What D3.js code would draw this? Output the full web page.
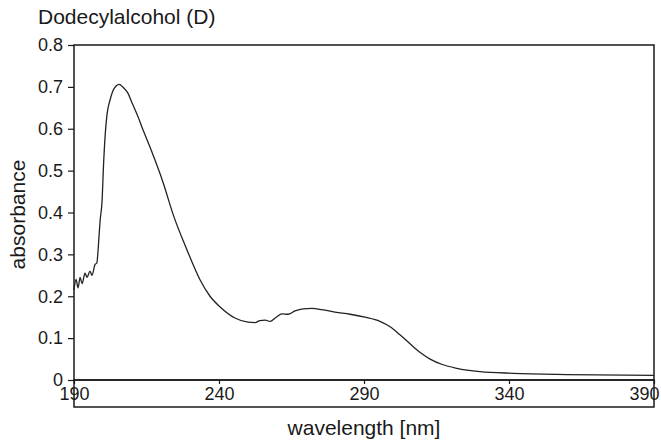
<html>
<head>
<title>Dodecylalcohol (D)</title>
<script src="https://d3js.org/d3.v7.min.js"></script>
<style>
  body { margin: 0; background: #fff; }
  text { font-family: "Liberation Sans", Arial, sans-serif; fill: #1a1a1a; }
</style>
</head>
<body>
<div id="chart"></div>
<script>
// wavelength (nm) and absorbance
var wavelength = [190.0, 190.7, 191.4, 192.1, 192.8, 193.8, 194.5, 195.5, 196.2, 197.2,
                  197.9, 198.3, 198.6, 199.0, 199.7, 200.1, 200.7, 201.4, 202.4, 203.4,
                  204.5, 205.6, 206.9, 208.6, 210.0, 211.7, 214.1, 216.6, 220.8, 224.2,
                  229.0, 233.4, 236.9, 240.3, 245.5, 250.0, 252.4, 254.1, 255.9, 257.6,
                  259.7, 261.7, 263.8, 266.2, 269.0, 272.0, 275.5, 280.0, 285.2, 290.3,
                  295.5, 299.0, 302.4, 306.9, 309.5, 312.8, 317.0, 322.0, 330.0, 341.4,
                  360.0, 390.0];
var absorbance = [0.215, 0.24, 0.22, 0.245, 0.23, 0.255, 0.245, 0.26, 0.25, 0.275,
                  0.28, 0.31, 0.34, 0.38, 0.43, 0.50, 0.58, 0.635, 0.668, 0.69,
                  0.702, 0.706, 0.699, 0.685, 0.662, 0.635, 0.592, 0.549, 0.47, 0.395,
                  0.31, 0.24, 0.2, 0.175, 0.148, 0.138, 0.137, 0.142, 0.143, 0.14,
                  0.15, 0.158, 0.157, 0.165, 0.17, 0.171, 0.168, 0.162, 0.157, 0.15,
                  0.14, 0.127, 0.108, 0.08, 0.065, 0.05, 0.037, 0.028, 0.02, 0.016,
                  0.013, 0.011];
var xTicks = [190, 240, 290, 340, 390];
var yTicks = [0, 0.1, 0.2, 0.3, 0.4, 0.5, 0.6, 0.7, 0.8];

var W = 661, H = 441;
var mLeft = 74, mRight = 654, mTop = 45, mBottom = 380, boxBottom = 407;

var svg = d3.select("#chart").append("svg")
  .attr("width", W)
  .attr("height", H);

var x = d3.scaleLinear().domain([190, 390]).range([mLeft, mRight]);
var y = d3.scaleLinear().domain([0, 0.8]).range([mBottom, mTop]);

// plot frame
svg.append("rect")
  .attr("x", mLeft).attr("y", mTop)
  .attr("width", mRight - mLeft).attr("height", mBottom - mTop)
  .attr("fill", "none").attr("stroke", "#1a1a1a").attr("stroke-width", 1.5);
// box under the plot holding the x tick labels
svg.append("rect")
  .attr("x", mLeft).attr("y", mBottom)
  .attr("width", mRight - mLeft).attr("height", boxBottom - mBottom)
  .attr("fill", "none").attr("stroke", "#1a1a1a").attr("stroke-width", 1.5);

// y axis
var yAxis = svg.append("g")
  .attr("transform", "translate(" + mLeft + ",0)")
  .call(d3.axisLeft(y).tickValues(yTicks).tickSize(6).tickPadding(5)
    .tickFormat(function (d) { return d === 0 ? "0" : d3.format(".1f")(d); }));
yAxis.select(".domain").remove();
yAxis.selectAll("line").attr("stroke", "#1a1a1a").attr("stroke-width", 1.2);
yAxis.selectAll("text").attr("font-size", 18).attr("fill", "#1a1a1a")
  .attr("font-family", "Liberation Sans, Arial, sans-serif");

// x axis
var xAxis = svg.append("g")
  .attr("transform", "translate(0," + mBottom + ")")
  .call(d3.axisBottom(x).tickValues(xTicks).tickSize(4).tickPadding(3)
    .tickFormat(d3.format("d")));
xAxis.select(".domain").remove();
xAxis.selectAll("line").attr("stroke", "#1a1a1a").attr("stroke-width", 1.2);
xAxis.selectAll("text").attr("font-size", 18).attr("fill", "#1a1a1a")
  .attr("font-family", "Liberation Sans, Arial, sans-serif");
// last label is pulled in so it stays inside the window
xAxis.selectAll(".tick").filter(function (d) { return d === 390; })
  .select("text").attr("text-anchor", "end").attr("dx", 5);

// spectrum
var pts = wavelength.map(function (w, i) { return [w, absorbance[i]]; });
var line = d3.line()
  .x(function (d) { return x(d[0]); })
  .y(function (d) { return y(d[1]); })
  .curve(d3.curveMonotoneX);
svg.append("path")
  .datum(pts)
  .attr("d", line)
  .attr("fill", "none")
  .attr("stroke", "#222")
  .attr("stroke-width", 1.3);

// titles
svg.append("text")
  .attr("x", 38).attr("y", 24)
  .attr("font-size", 21)
  .text("Dodecylalcohol (D)");
svg.append("text")
  .attr("x", (mLeft + mRight) / 2).attr("y", 435)
  .attr("text-anchor", "middle")
  .attr("font-size", 21)
  .text("wavelength [nm]");
svg.append("text")
  .attr("transform", "translate(25," + ((mTop + mBottom) / 2 + 2) + ") rotate(-90)")
  .attr("text-anchor", "middle")
  .attr("font-size", 21)
  .text("absorbance");
</script>
</body>
</html>
